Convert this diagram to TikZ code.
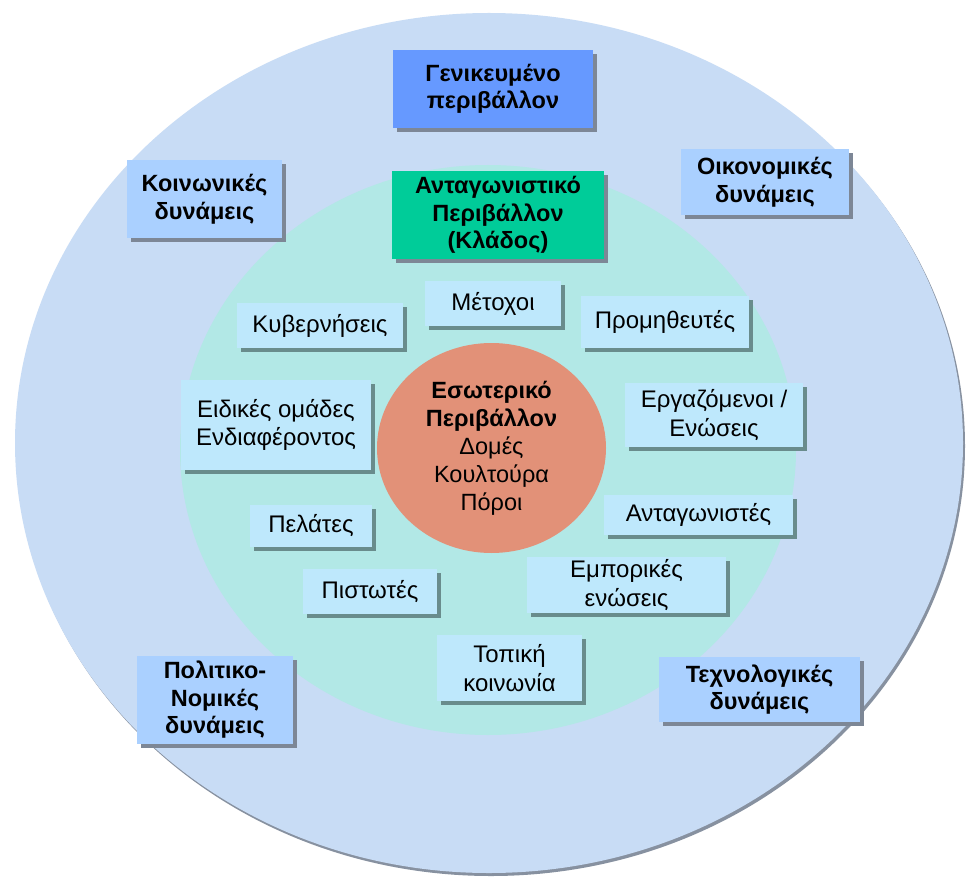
\documentclass[tikz,border=0pt]{standalone}
\usepackage{fontspec}
\setmainfont{Liberation Sans}
\usetikzlibrary{shadows,shapes.geometric}
\definecolor{cOuter}{RGB}{200,220,245}
\definecolor{cOuterEdge}{RGB}{135,145,160}
\definecolor{cRing}{RGB}{178,232,230}
\definecolor{cGen}{RGB}{102,153,255}
\definecolor{cComp}{RGB}{0,204,153}
\definecolor{cForce}{RGB}{170,208,255}
\definecolor{cInner}{RGB}{190,232,252}
\definecolor{cCore}{RGB}{226,145,120}
\definecolor{cShadowA}{RGB}{125,135,150}
\definecolor{cShadowB}{RGB}{105,140,140}
\tikzset{
  basebox/.style={rectangle, inner sep=0pt, align=center},
  boldbox/.style={basebox, font=\fontsize{23.5}{27.5}\selectfont\bfseries,
    drop shadow={shadow xshift=4pt, shadow yshift=-4pt, fill=cShadowA, opacity=1}},
  genbox/.style={boldbox, fill=cGen},
  compbox/.style={boldbox, fill=cComp},
  forcebox/.style={boldbox, fill=cForce},
  innerbox/.style={basebox, fill=cInner, font=\fontsize{24}{28.5}\selectfont,
    drop shadow={shadow xshift=4pt, shadow yshift=-4pt, fill=cShadowB, opacity=1}},
  sz/.style 2 args={minimum width=#1pt, minimum height=#2pt}
}
\begin{document}
\begin{tikzpicture}[x=1pt,y=-1pt]
\useasboundingbox (0,0) rectangle (966,877);
\fill[white] (0,0) rectangle (966,877);
% outer ellipse with slight edge shadow
\fill[cOuterEdge] (491,446) ellipse [x radius=474, y radius=430];
\fill[cOuter] (489,443) ellipse [x radius=474, y radius=430];
% green ring
\fill[cRing] (488,450) ellipse [x radius=308, y radius=285];
% core
\node[ellipse, fill=cCore, minimum width=229pt, minimum height=210pt, inner sep=0pt, align=center,
  font=\fontsize{23.5}{28}\selectfont] (core) at (491.5,448)
  {\textbf{Εσωτερικό}\\\textbf{Περιβάλλον}\\Δομές\\Κουλτούρα\\Πόροι};
% top boxes
\node[genbox, sz={200}{78}] (gen) at (493,89) {Γενικευμένο\\περιβάλλον};
\node[compbox, sz={212}{88}] (comp) at (498,215) {Ανταγωνιστικό\\Περιβάλλον\\(Κλάδος)};
% forces
\node[forcebox, sz={155}{78}] (soc) at (204.5,199) {Κοινωνικές\\δυνάμεις};
\node[forcebox, sz={168}{66}] (eco) at (765,182) {Οικονομικές\\δυνάμεις};
\node[forcebox, sz={156}{88}] (pol) at (215,700) {Πολιτικο-\\Νομικές\\δυνάμεις};
\node[forcebox, sz={201}{65}] (tech) at (759.5,689.5) {Τεχνολογικές\\δυνάμεις};
% inner stakeholders
\node[innerbox, sz={166}{45}] (gov) at (320,325.5) {Κυβερνήσεις};
\node[innerbox, sz={136}{45}] (share) at (493,303.5) {Μέτοχοι};
\node[innerbox, sz={168}{52}] (supp) at (665,322) {Προμηθευτές};
\node[innerbox, sz={190}{90}] (spec) at (276,425) {Ειδικές ομάδες\\Ενδιαφέροντος};
\node[innerbox, sz={178}{64}] (empl) at (714,415) {Εργαζόμενοι /\\Ενώσεις};
\node[innerbox, sz={122}{42}] (cust) at (311,526) {Πελάτες};
\node[innerbox, sz={189}{40}] (compet) at (698.5,515) {Ανταγωνιστές};
\node[innerbox, sz={134}{45}] (cred) at (370,591.5) {Πιστωτές};
\node[innerbox, sz={199}{56}] (trade) at (626.5,585) {Εμπορικές\\ενώσεις};
\node[innerbox, sz={145}{66}] (local) at (509.5,668) {Τοπική\\κοινωνία};
\end{tikzpicture}
\end{document}
